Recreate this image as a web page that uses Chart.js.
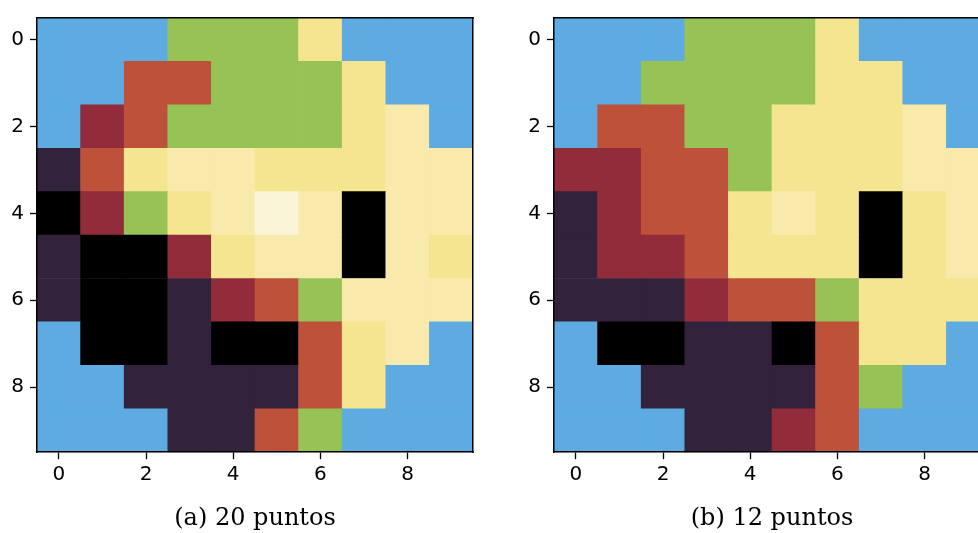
<!DOCTYPE html>
<html>
<head>
<meta charset="utf-8">
<title>Clusters</title>
<script src="https://cdn.jsdelivr.net/npm/chart.js@4.4.1/dist/chart.umd.min.js"></script>
<style>
  html, body { margin: 0; padding: 0; background: #fff; overflow: hidden; }
  #wrap { position: relative; width: 978px; height: 533px; overflow: hidden; }
  #wrap canvas { position: absolute; top: 0; }
  #chartA { left: 0; }
  #chartB { left: 517px; }
</style>
</head>
<body>
<div id="wrap">
  <canvas id="chartA" width="510" height="533"></canvas>
  <canvas id="chartB" width="510" height="533"></canvas>
</div>
<script>
// colour of each cluster id used in the grids
var clusterColors = [
  '#5dabe1', // 0 fondo
  '#97c255', // 1
  '#f5e590', // 2
  '#f8eaab', // 3
  '#fbf5d7', // 4
  '#bd513a', // 5
  '#922c3a', // 6
  '#33223c', // 7
  '#000000'  // 8
];

var tickValues = [0, 2, 4, 6, 8];
var captions = ['(a) 20 puntos', '(b) 12 puntos'];

// cluster id per cell, row by row
var grid20 = [
  [0, 0, 0, 1, 1, 1, 2, 0, 0, 0],
  [0, 0, 5, 5, 1, 1, 1, 2, 0, 0],
  [0, 6, 5, 1, 1, 1, 1, 2, 3, 0],
  [7, 5, 2, 3, 3, 2, 2, 2, 3, 3],
  [8, 6, 1, 2, 3, 4, 3, 8, 3, 3],
  [7, 8, 8, 6, 2, 3, 3, 8, 3, 2],
  [7, 8, 8, 7, 6, 5, 1, 3, 3, 3],
  [0, 8, 8, 7, 8, 8, 5, 2, 3, 0],
  [0, 0, 7, 7, 7, 7, 5, 2, 0, 0],
  [0, 0, 0, 7, 7, 5, 1, 0, 0, 0]
];

var grid12 = [
  [0, 0, 0, 1, 1, 1, 2, 0, 0, 0],
  [0, 0, 1, 1, 1, 1, 2, 2, 0, 0],
  [0, 5, 5, 1, 1, 2, 2, 2, 3, 0],
  [6, 6, 5, 5, 1, 2, 2, 2, 3, 3],
  [7, 6, 5, 5, 2, 3, 2, 8, 2, 3],
  [7, 6, 6, 5, 2, 2, 2, 8, 2, 3],
  [7, 7, 7, 6, 5, 5, 1, 2, 2, 2],
  [0, 8, 8, 7, 7, 8, 5, 2, 2, 0],
  [0, 0, 7, 7, 7, 7, 5, 1, 0, 0],
  [0, 0, 0, 7, 7, 6, 5, 0, 0, 0]
];

// each cell becomes a floating bar spanning its row
function cellData(grid) {
  var data = [];
  grid.forEach(function (row, r) {
    row.forEach(function (k, c) {
      data.push({ x: c, y: [r - 0.5, r + 0.5], k: k });
    });
  });
  return data;
}

function pinTicks(scale) {
  scale.ticks = tickValues.map(function (v) { return { value: v }; });
}

var axisFont = { family: 'DejaVu Sans', size: 20 };
var tickGrid = {
  display: true, drawOnChartArea: false, drawTicks: true, offset: false,
  tickLength: 7, tickWidth: 1.3, tickColor: '#000'
};
var frame = { color: '#000', width: 1.5, z: 1 };

function makeChart(id, grid, caption) {
  var cells = cellData(grid);
  return new Chart(document.getElementById(id), {
    type: 'bar',
    data: {
      datasets: [{
        data: cells,
        backgroundColor: cells.map(function (d) { return clusterColors[d.k]; }),
        borderWidth: 0,
        categoryPercentage: 1,
        barPercentage: 1
      }]
    },
    options: {
      responsive: false,
      animation: false,
      devicePixelRatio: 1,
      layout: { padding: 0 },
      plugins: {
        legend: { display: false },
        tooltip: { enabled: false },
        title: {
          display: true,
          position: 'bottom',
          text: caption,
          color: '#000',
          font: { family: 'DejaVu Serif', size: 24, weight: 'normal', lineHeight: 1.2 },
          padding: { top: 10, bottom: 0 }
        }
      },
      scales: {
        x: {
          type: 'linear', position: 'bottom', min: -0.5, max: 9.5, offset: false,
          afterBuildTicks: pinTicks,
          afterFit: function (s) { s.height = 42; },
          grid: tickGrid, border: frame,
          ticks: { color: '#000', font: axisFont, padding: 4, maxRotation: 0 }
        },
        y: {
          type: 'linear', position: 'left', reverse: true, min: -0.5, max: 9.5,
          afterBuildTicks: pinTicks,
          afterFit: function (s) { s.width = 37; },
          grid: tickGrid, border: frame,
          ticks: { color: '#000', font: axisFont, padding: 6 }
        },
        x2: {
          type: 'linear', position: 'top',
          afterFit: function (s) { s.height = 16; },
          grid: { display: false }, border: frame, ticks: { display: false }
        },
        y2: {
          type: 'linear', position: 'right',
          afterFit: function (s) { s.width = 37; },
          grid: { display: false }, border: frame, ticks: { display: false }
        }
      }
    }
  });
}

makeChart('chartA', grid20, captions[0]);
makeChart('chartB', grid12, captions[1]);
</script>
</body>
</html>
